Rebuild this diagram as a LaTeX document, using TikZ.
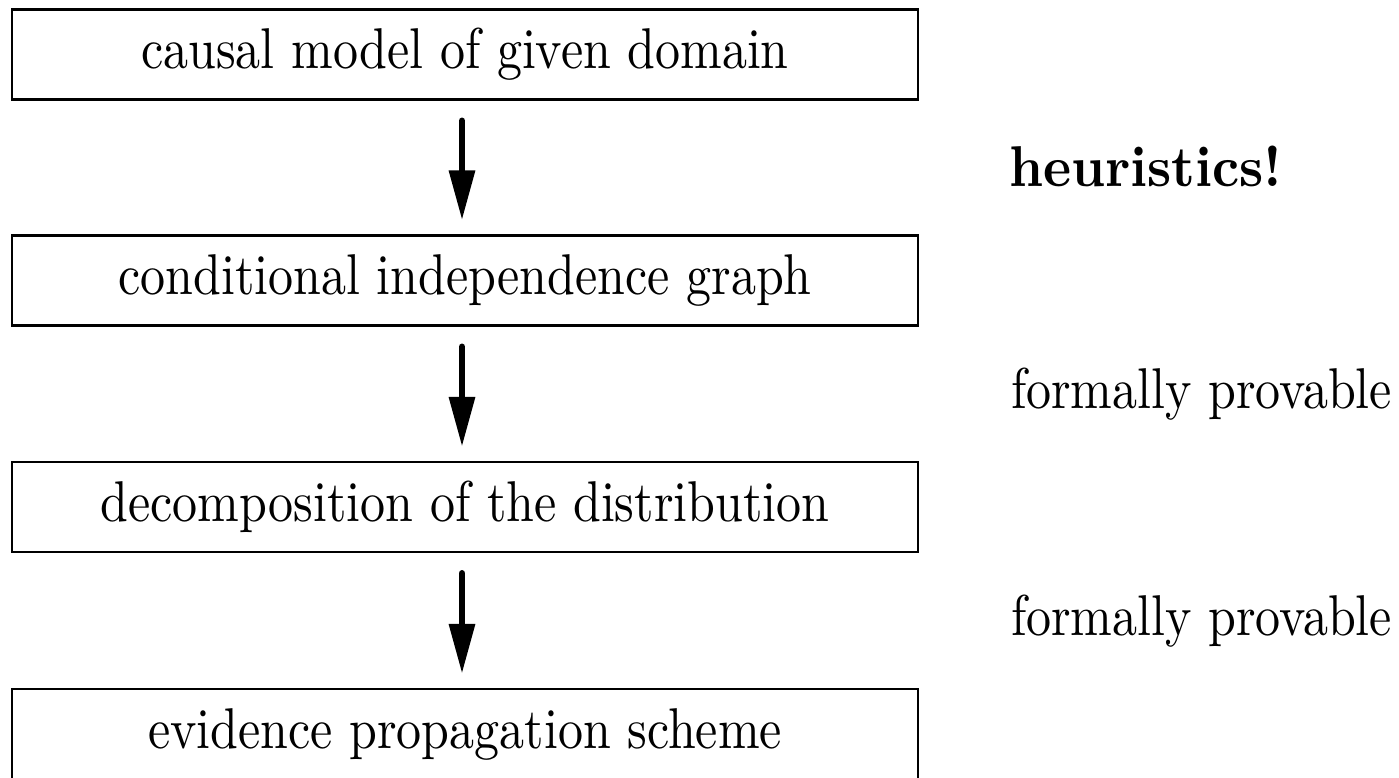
\documentclass[tikz,border=0pt]{standalone}
\usepackage{amstext,amsmath,amsfonts}
\usepackage{tikz}
\usetikzlibrary{arrows.meta}

\newcommand{\etir}[1]{\scalebox{1}[1.15]{#1}}

\begin{document}
\begin{tikzpicture}[x=0.2pt,y=-0.2pt,
    etape/.style={draw,line width=0.5pt,minimum width=181.2pt,minimum height=18pt,inner sep=0pt},
    fleche/.style={line width=1.3pt,line cap=round,-{Triangle[width=5pt,length=10pt]},shorten <=4pt,shorten >=2.8pt},
    remarque/.style={anchor=base west,inner sep=0pt}]
    \useasboundingbox (0,0) rectangle (1399,777);

    \draw (465,54.5) node[etape] (causal) {\etir{causal model of given domain}} ;
    \draw (465,280.5) node[etape] (graphe) {\etir{conditional independence graph}} ;
    \draw (465,507) node[etape] (decomp) {\etir{decomposition of the distribution}} ;
    \draw (465,734) node[etape] (schema) {\etir{evidence propagation scheme}} ;

    \draw[fleche] ([xshift=-0.6pt]causal.south) -- ([xshift=-0.6pt]graphe.north) ;
    \draw[fleche] ([xshift=-0.6pt]graphe.south) -- ([xshift=-0.6pt]decomp.north) ;
    \draw[fleche] ([xshift=-0.6pt]decomp.south) -- ([xshift=-0.6pt]schema.north) ;

    \draw (1008,186) node[remarque] (heur) {\scalebox{1.066}[1.15]{\textbf{heuristics!}}} ;
    \draw (1010,408) node[remarque] (prouv1) {\etir{formally provable}} ;
    \draw (1010,635) node[remarque] (prouv2) {\etir{formally provable}} ;
\end{tikzpicture}
\end{document}
